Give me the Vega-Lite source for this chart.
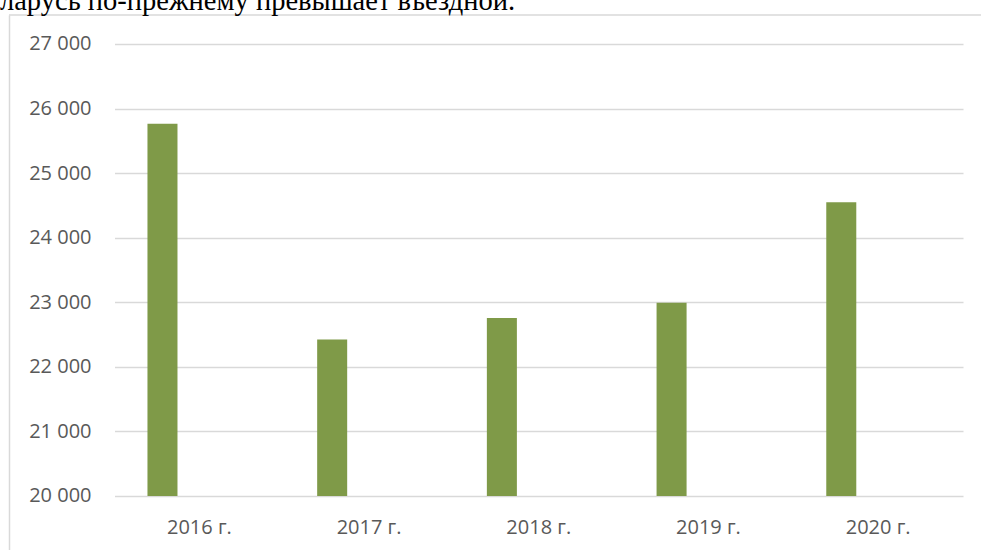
{
  "$schema": "https://vega.github.io/schema/vega-lite/v6.json",
  "width": 972,
  "height": 535,
  "autosize": {"type": "none"},
  "padding": {"top": 15, "left": 9, "right": 0, "bottom": 0},
  "background": "white",
  "title": {
    "text": "ларусь по-прежнему превышает въездной.",
    "anchor": "start",
    "frame": "group",
    "dx": -9,
    "baseline": "alphabetic",
    "offset": -24,
    "font": "Liberation Serif",
    "fontSize": 28.5,
    "fontWeight": "normal",
    "color": "#000000"
  },
  "layer": [
    {
      "data": {
        "values": [
          {"year": "2016 г.", "s": "A", "value": 25764},
          {"year": "2017 г.", "s": "A", "value": 22425},
          {"year": "2018 г.", "s": "A", "value": 22755},
          {"year": "2019 г.", "s": "A", "value": 22993},
          {"year": "2020 г.", "s": "A", "value": 24550}
        ]
      },
      "mark": {"type": "bar", "color": "#7F9A48"},
      "encoding": {
        "x": {
          "field": "year",
          "type": "nominal",
          "sort": null,
          "scale": {"range": [105.5, 954], "paddingInner": 0, "paddingOuter": 0},
          "axis": {
            "title": null,
            "labelAngle": 0,
            "domain": false,
            "ticks": false,
            "offset": -54,
            "labelPadding": 21,
            "labelFont": "Open Sans",
            "labelFontSize": 20,
            "labelColor": "#595959"
          }
        },
        "xOffset": {
          "field": "s",
          "type": "nominal",
          "scale": {"domain": ["A", "B"], "paddingInner": 0.593, "paddingOuter": 0.447}
        },
        "y": {
          "field": "value",
          "type": "quantitative",
          "scale": {"domain": [19163, 27449], "nice": false, "zero": false},
          "axis": {
            "title": null,
            "values": [20000, 21000, 22000, 23000, 24000, 25000, 26000, 27000],
            "labelOverlap": false,
            "labelExpr": "replace(format(datum.value, ',.0f'), ',', ' ')",
            "domain": true,
            "domainColor": "#d9d9d9",
            "domainWidth": 1.5,
            "ticks": false,
            "labelPadding": -82,
            "labelFont": "Open Sans",
            "labelFontSize": 20,
            "labelColor": "#595959",
            "grid": true,
            "gridColor": "#d9d9d9",
            "gridWidth": 1.5
          }
        },
        "y2": {"datum": 20000}
      }
    },
    {
      "data": {"values": [{"edge": 27449}]},
      "mark": {"type": "rule", "color": "#d9d9d9", "strokeWidth": 1.5},
      "encoding": {"y": {"field": "edge", "type": "quantitative"}}
    }
  ],
  "config": {"view": {"stroke": null}}
}
